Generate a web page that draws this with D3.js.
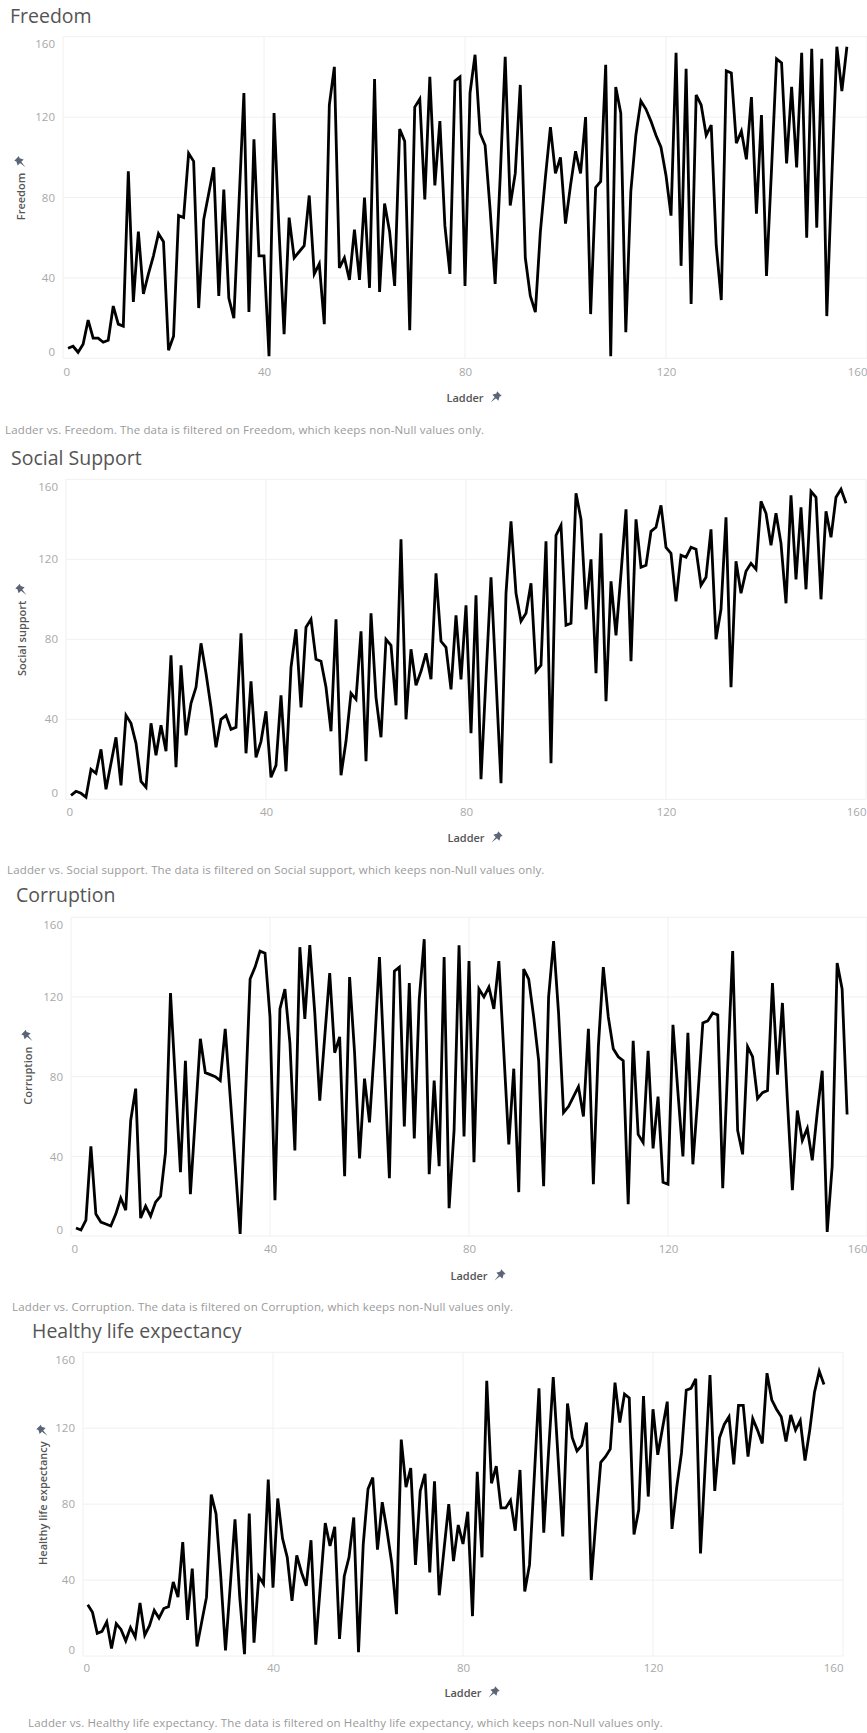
<!DOCTYPE html>
<html>
<head>
<meta charset="utf-8">
<script src="https://cdn.jsdelivr.net/npm/d3@7"></script>
<style>
  body { margin: 0; background: #fff; }
  svg { display: block; font-family: "Open Sans", sans-serif; }
</style>
</head>
<body>
<svg id="chart" width="867" height="1733"></svg>
<script>
// ladder rank (x) shared by all four sheets
const ladder = d3.range(1, 157);
const xTicks = [0, 40, 80, 120, 160];
const yTicks = [0, 40, 80, 120, 160];

const freedom = [5,6,3,7,19,10,10,8,9,26, 17,16,93,28,63,32,42,51,62,58,
  4,11,71,70,102,98,25,69,82,95, 31,84,30,20,76,132,23,109,51,51,
  1,122,63,12,70,50,53,56,81,42, 47,17,126,145,45,50,39,64,39,80,
  35,139,33,77,63,36,114,108,14,125, 129,79,140,86,118,66,42,138,140,36,
  132,151,112,106,74,37,90,150,76,92, 136,50,31,23,63,90,115,92,100,67,
  86,103,92,120,22,85,88,146,1,135, 122,13,83,111,128,124,118,111,105,91,
  71,152,46,144,27,131,126,111,116,56, 29,143,142,107,113,99,130,72,121,41,
  94,149,147,97,135,95,152,60,154,65, 149,21,90,155,133,155];

const socialSupport = [2,4,3,1,15,13,25,5,18,31, 7,42,38,28,9,6,38,22,37,24,
  72,16,67,32,48,56,78,63,46,26, 40,42,35,36,83,23,59,21,29,44,
  11,17,52,14,66,85,46,86,90,70, 69,56,34,90,12,29,53,50,84,19,
  93,51,31,80,77,47,130,40,75,57, 64,73,60,113,79,76,55,92,60,97,
  33,102,10,61,111,60,8,103,139,103, 89,93,108,64,67,129,18,132,137,87,
  88,153,140,95,120,63,133,49,109,82, 113,145,69,140,116,117,134,136,147,126,
  123,99,122,121,126,125,107,111,135,80, 95,141,56,119,103,114,118,115,149,143,
  127,143,128,98,152,110,146,105,154,151, 100,144,131,151,155,148];

const corruption = [4,3,8,45,11,7,6,5,11,19, 13,58,74,9,15,10,17,20,42,122,
  77,32,88,21,60,99,82,81,80,78, 104,70,36,1,65,129,135,143,142,110,
  18,114,124,97,43,145,109,146,112,68, 100,132,92,100,30,130,92,39,79,57,
  95,140,85,29,133,135,55,127,49,119, 149,31,78,35,140,14,53,146,50,138,
  37,124,120,125,114,138,92,46,84,22, 134,129,110,88,25,120,148,112,62,65,
  70,75,60,104,26,95,135,110,94,90, 88,16,98,51,47,93,44,70,27,26,
  106,72,40,102,36,70,107,108,112,111, 24,85,143,53,41,95,90,69,72,73,
  127,81,117,68,23,63,48,54,38,62, 83,2,35,137,124,61];

const healthyLife = [27,23,12,13,18,4,17,14,8,15, 10,28,11,16,24,20,25,26,39,31,
  60,19,46,5,18,31,85,75,42,3, 37,72,31,1,75,7,42,38,93,36,
  83,62,52,29,53,44,37,61,6,38, 70,58,68,9,42,52,73,2,59,88,
  94,56,81,66,49,22,114,89,99,48, 87,96,44,92,32,56,80,50,69,59,
  76,21,97,52,145,91,100,78,78,82, 66,98,34,48,94,141,65,107,147,105,
  63,133,115,108,111,123,40,72,102,105, 109,144,123,138,136,64,77,137,84,130,
  106,120,134,67,89,107,140,141,146,54, 101,148,87,115,122,126,101,132,132,105,
  125,119,112,149,135,130,126,113,127,119, 124,103,119,139,150,143];

const sheets = [
  { title: "Freedom", field: "Freedom", values: freedom,
    top: 36.7, bottom: 358.3, left: 63, right: 867,
    titleX: 10, titleY: 23, yTitleX: 21, tickY: 379, ladderY: 402, captionX: 5, captionY: 434 },
  { title: "Social Support", field: "Social support", values: socialSupport,
    top: 479.3, bottom: 799.3, left: 66, right: 866,
    titleX: 11, titleY: 465, yTitleX: 22, tickY: 819, ladderY: 842, captionX: 7, captionY: 874 },
  { title: "Corruption", field: "Corruption", values: corruption,
    top: 917.3, bottom: 1236, left: 71, right: 867,
    titleX: 16, titleY: 902, yTitleX: 28, tickY: 1256, ladderY: 1280, captionX: 12, captionY: 1311 },
  { title: "Healthy life expectancy", field: "Healthy life expectancy", values: healthyLife,
    top: 1352.3, bottom: 1656, left: 83, right: 843,
    titleX: 32, titleY: 1338, yTitleX: 43, tickY: 1675, ladderY: 1697, captionX: 28, captionY: 1727 }
];

const svg = d3.select("#chart");

function pin(g, x, y, rot) {
  g.append("path")
    .attr("transform", "translate(" + x + "," + y + ") rotate(" + rot + ") scale(1.25)")
    .attr("d", "M-2.6,-5 L2.6,-5 L1.8,-3.4 L3.4,-0.4 L-3.4,-0.4 L-1.8,-3.4 Z M-0.7,-0.4 L0.7,-0.4 L0,5 Z")
    .attr("fill", "#5b6577");
}

sheets.forEach(s => {
  const g = svg.append("g");
  const x = d3.scaleLinear().domain([0, 160]).range([s.left, s.right]);
  const y = d3.scaleLinear().domain([0, 160]).range([s.bottom, s.top]);

  g.append("text")
    .attr("x", s.titleX).attr("y", s.titleY)
    .attr("font-size", 19.5).attr("fill", "#555")
    .text(s.title);

  // grid
  g.append("g").selectAll("line").data(yTicks).join("line")
    .attr("x1", s.left).attr("x2", s.right)
    .attr("y1", d => y(d)).attr("y2", d => y(d))
    .attr("stroke", "#f0f0f0");
  g.append("g").selectAll("line").data(xTicks).join("line")
    .attr("x1", d => x(d)).attr("x2", d => x(d))
    .attr("y1", s.top).attr("y2", s.bottom)
    .attr("stroke", "#f0f0f0");

  // y axis labels
  const yAxis = g.append("g")
    .attr("transform", "translate(" + (s.left - 8) + ",0)")
    .call(d3.axisLeft(y).tickValues(yTicks).tickSize(0).tickPadding(0));
  yAxis.select(".domain").remove();
  yAxis.selectAll("text")
    .attr("font-family", "Open Sans, sans-serif")
    .attr("font-size", 11.5).attr("fill", "#a8a8a8")
    .attr("dy", d => d === 0 ? "-0.25em" : d === 160 ? "0.95em" : "0.32em");

  // x axis labels
  const xAxis = g.append("g")
    .attr("transform", "translate(0," + (s.tickY - 11) + ")")
    .call(d3.axisBottom(x).tickValues(xTicks).tickSize(0).tickPadding(0));
  xAxis.select(".domain").remove();
  xAxis.selectAll("text")
    .attr("font-family", "Open Sans, sans-serif")
    .attr("font-size", 11.5).attr("fill", "#a8a8a8")
    .attr("text-anchor", d => d === 0 ? "start" : d === 160 ? "end" : "middle");

  // axis titles
  const cx = (s.left + s.right) / 2;
  g.append("text")
    .attr("x", cx).attr("y", s.ladderY)
    .attr("text-anchor", "middle")
    .attr("font-size", 11).attr("font-weight", 600).attr("fill", "#555")
    .text("Ladder");
  pin(g, cx + 30, s.ladderY - 4, 45);

  const midY = (s.top + s.bottom) / 2 - 1;
  const yt = g.append("text")
    .attr("transform", "translate(" + (s.yTitleX + 4) + "," + midY + ") rotate(-90)")
    .attr("text-anchor", "middle")
    .attr("font-size", 11).attr("font-weight", 600).attr("fill", "#555")
    .text(s.field);
  const len = yt.node().getComputedTextLength();
  pin(g, s.yTitleX, midY - len / 2 - 10, -45);

  // line
  const line = d3.line()
    .x((d, i) => x(ladder[i]))
    .y(d => y(d));
  g.append("path")
    .datum(s.values)
    .attr("d", line)
    .attr("fill", "none")
    .attr("stroke", "#000")
    .attr("stroke-width", 2.8)
    .attr("stroke-linejoin", "miter")
    .attr("stroke-miterlimit", 4);

  g.append("text")
    .attr("x", s.captionX).attr("y", s.captionY)
    .attr("font-size", 11.5).attr("letter-spacing", 0.15).attr("fill", "#9a9a9a")
    .text("Ladder vs. " + s.field + ". The data is filtered on " + s.field + ", which keeps non-Null values only.");
});
</script>
</body>
</html>
